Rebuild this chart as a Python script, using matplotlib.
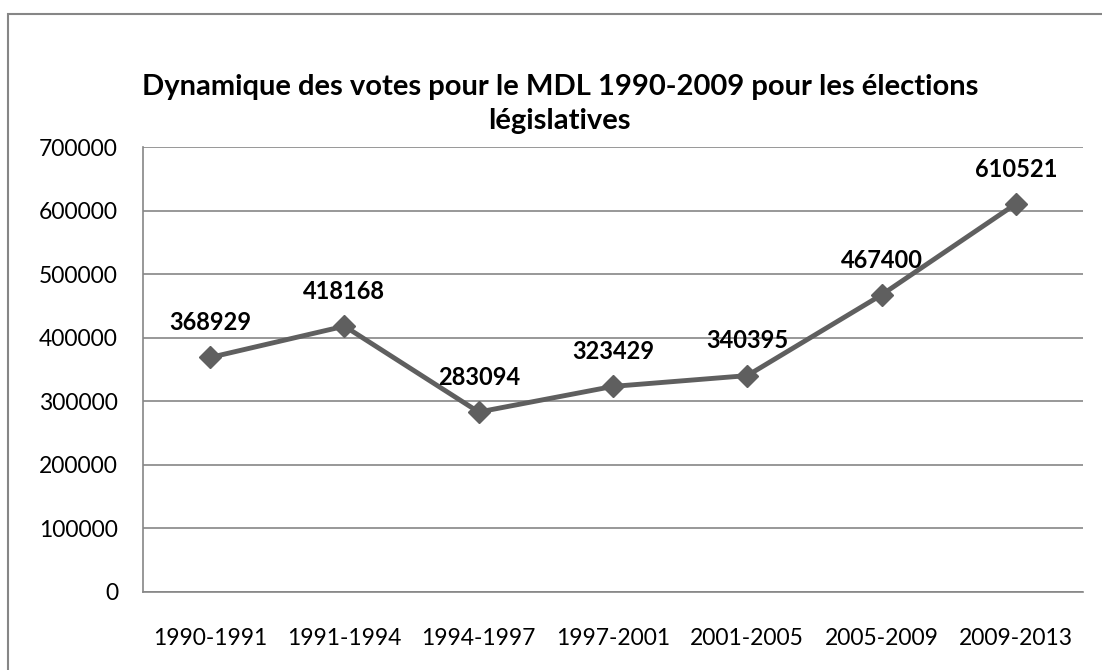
import matplotlib.pyplot as plt
from matplotlib.patches import Rectangle

periods = ['1990-1991', '1991-1994', '1994-1997', '1997-2001', '2001-2005', '2005-2009', '2009-2013']
votes = [368929, 418168, 283094, 323429, 340395, 467400, 610521]
y_ticks = [0, 100000, 200000, 300000, 400000, 500000, 600000, 700000]

plt.rcParams['font.family'] = ['Lato', 'DejaVu Sans']

fig = plt.figure(figsize=(11.02, 6.70), dpi=100)
fig.patches.append(Rectangle((8 / 1102, -0.1), 1.2, 1 - 14 / 670 + 0.1, transform=fig.transFigure,
                             fill=False, edgecolor='#868686', linewidth=1.5))

ax = fig.add_axes([143 / 1102, 1 - 592 / 670, 940 / 1102, 445 / 670])
x = range(len(periods))
ax.plot(x, votes, color='#5f5f5f', linewidth=3.5, marker='D', markersize=11, zorder=3)
for xi, v in zip(x, votes):
    ax.annotate(str(v), (xi, v), xytext=(0, 25), textcoords='offset points',
                ha='center', va='center', fontsize=17, fontweight='bold', color='black')

ax.set_xlim(-0.5, len(periods) - 0.5)
ax.set_ylim(0, 700000)
ax.set_yticks(y_ticks)
ax.set_yticklabels([str(t) for t in y_ticks], fontsize=16.5)
ax.set_xticks(list(x))
ax.set_xticklabels(periods, fontsize=16.5)
ax.tick_params(length=0)
ax.tick_params(axis='y', pad=18)
ax.tick_params(axis='x', pad=26)
ax.grid(axis='y', color='#868686', linewidth=1.2)
ax.set_axisbelow(True)
for side in ['top', 'right']:
    ax.spines[side].set_visible(False)
for side in ['left', 'bottom']:
    ax.spines[side].set_color('#868686')
    ax.spines[side].set_linewidth(1.2)

fig.text(0.508, 1 - 104 / 670, 'Dynamique des votes pour le MDL 1990-2009 pour les élections\nlégislatives',
         ha='center', va='center', fontsize=21, fontweight='bold', linespacing=1.35)

fig.savefig('out.png', dpi=100)
